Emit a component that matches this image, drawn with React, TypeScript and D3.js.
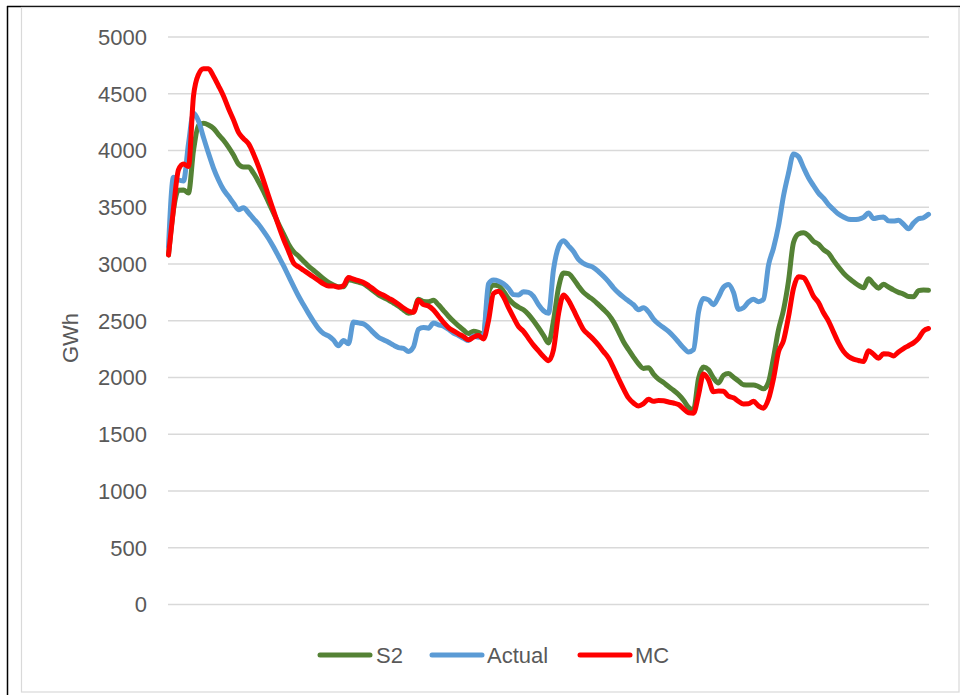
import React from "react";
import * as d3 from "d3";

// Weekly energy series (GWh), one value per period
const S2: number[] = [
  3080, 3480, 3650, 3652, 3625, 4000, 4220, 4240, 4225, 4195,
  4140, 4090, 4030, 3960, 3880, 3855, 3855, 3800, 3725, 3640,
  3545, 3450, 3355, 3265, 3175, 3110, 3070, 3025, 2982, 2945,
  2908, 2870, 2838, 2815, 2800, 2800, 2862, 2852, 2840, 2825,
  2796, 2762, 2728, 2705, 2683, 2656, 2628, 2596, 2565, 2580,
  2690, 2670, 2668, 2680, 2640, 2590, 2540, 2495, 2455, 2418,
  2388, 2408, 2398, 2378, 2750, 2815, 2808, 2760, 2695, 2650,
  2620, 2597, 2555, 2500, 2438, 2372, 2305, 2500, 2790, 2920,
  2915, 2868, 2805, 2750, 2714, 2682, 2642, 2600, 2555, 2490,
  2405, 2315, 2246, 2180, 2120, 2080, 2087, 2030, 1985, 1955,
  1920, 1888, 1850, 1800, 1738, 1715, 1990, 2092, 2068, 1996,
  1952, 2020, 2035, 2002, 1970, 1936, 1934, 1934, 1920, 1900,
  1960, 2175, 2420, 2595, 2850, 3190, 3265, 3275, 3250, 3200,
  3175, 3126, 3096, 3032, 2973, 2920, 2877, 2843, 2812, 2790,
  2870, 2825, 2787, 2822, 2797, 2772, 2750, 2735, 2713, 2712,
  2765, 2771, 2768,
];

const ACTUAL: number[] = [
  3150, 3765, 3740, 3732, 4060, 4328, 4260, 4115, 3975, 3845,
  3740, 3655, 3596, 3535, 3478, 3495, 3452, 3400, 3350, 3290,
  3225, 3150, 3068, 2985, 2895, 2805, 2718, 2640, 2565, 2495,
  2430, 2387, 2366, 2330, 2280, 2325, 2298, 2490, 2481, 2473,
  2440, 2395, 2355, 2332, 2310, 2285, 2264, 2257, 2230, 2270,
  2425, 2441, 2435, 2480, 2464, 2452, 2425, 2392, 2370, 2346,
  2325, 2365, 2355, 2380, 2825, 2858, 2850, 2825, 2785, 2730,
  2727, 2755, 2750, 2715, 2642, 2588, 2566, 2950, 3150, 3205,
  3160, 3110, 3040, 3005, 2986, 2969, 2933, 2892, 2845, 2790,
  2745, 2708, 2675, 2641, 2598, 2614, 2578, 2515, 2472, 2440,
  2406, 2362, 2312, 2262, 2225, 2245, 2575, 2695, 2684, 2641,
  2710, 2795, 2820, 2750, 2600, 2615, 2665, 2690, 2668, 2690,
  2990, 3140, 3336, 3600, 3800, 3970, 3945, 3850, 3760, 3690,
  3625, 3580, 3523, 3480, 3440, 3414, 3395, 3392, 3395, 3410,
  3450, 3400, 3410, 3415, 3380, 3378, 3385, 3350, 3310, 3360,
  3398, 3408, 3438,
];

const MC: number[] = [
  3080, 3490, 3830, 3880, 3860, 4480, 4670, 4720, 4720, 4655,
  4570, 4480, 4370, 4270, 4160, 4105, 4060, 3970, 3860, 3735,
  3600, 3470, 3340, 3220, 3115, 3010, 2975, 2945, 2915, 2885,
  2855, 2825, 2806, 2806, 2795, 2810, 2880, 2866, 2853, 2838,
  2810, 2778, 2745, 2725, 2700, 2675, 2645, 2612, 2585, 2575,
  2680, 2642, 2630, 2595, 2540, 2485, 2440, 2410, 2385, 2360,
  2332, 2355, 2370, 2340, 2500, 2740, 2760, 2710, 2615, 2530,
  2450, 2407, 2345, 2285, 2235, 2185, 2148, 2245, 2560, 2727,
  2680, 2595, 2505, 2422, 2378, 2335, 2285, 2228, 2172, 2085,
  1990, 1900, 1820, 1775, 1750, 1770, 1808, 1790, 1798, 1795,
  1784, 1775, 1762, 1725, 1690, 1686, 1845, 2030, 1980, 1875,
  1880, 1878, 1835, 1821, 1790, 1767, 1768, 1790, 1750, 1730,
  1810, 1990, 2225, 2325, 2535, 2785, 2888, 2880, 2810, 2715,
  2660, 2570, 2497, 2400, 2305, 2230, 2185, 2162, 2150, 2140,
  2235, 2205, 2170, 2210, 2208, 2190, 2225, 2255, 2280, 2305,
  2345, 2410, 2432,
];

const Y_TICKS: number[] = [0, 500, 1000, 1500, 2000, 2500, 3000, 3500, 4000, 4500, 5000];

const SERIES_NAMES: string[] = ["S2", "Actual", "MC"];
const SERIES_COLORS: string[] = ["#548235", "#5B9BD5", "#FF0000"];
const SERIES_DATA: number[][] = [S2, ACTUAL, MC];

const WIDTH = 968;
const HEIGHT = 695;
const FONT = "'Liberation Sans', Arial, sans-serif";
const TEXT_COLOR = "#595959";

export default function App() {
  const plotLeft = 168;
  const plotRight = 929;
  const plotTop = 37;
  const plotBottom = 604.5;

  const x = d3
    .scaleLinear()
    .domain([0, S2.length - 1])
    .range([plotLeft + 0.5, plotRight - 0.5]);
  const y = d3.scaleLinear().domain([0, 5000]).range([plotBottom, plotTop]);

  const line = d3
    .line<number>()
    .x((_, i) => x(i))
    .y((d) => y(d))
    .curve(d3.curveMonotoneX);

  // legend entries: line swatch followed by label
  const legendY = 655;
  const legendItems = [
    { swatch: 318, label: 376 },
    { swatch: 430, label: 487 },
    { swatch: 578, label: 635 },
  ];

  return (
    <svg
      width={WIDTH}
      height={HEIGHT}
      viewBox={`0 0 ${WIDTH} ${HEIGHT}`}
      style={{ position: "absolute", left: 0, top: 0, display: "block", background: "#fff" }}
    >
      <rect x={0} y={0} width={WIDTH} height={HEIGHT} fill="#fff" />
      {/* frame */}
      <line x1={7} y1={6.5} x2={960} y2={6.5} stroke="#000" strokeWidth={1.5} />
      <line x1={7.5} y1={6} x2={7.5} y2={HEIGHT} stroke="#000" strokeWidth={1.5} />
      <rect x={21.5} y={7.5} width={937.5} height={684.5} fill="none" stroke="#d9d9d9" strokeWidth={1.2} />

      {/* gridlines and y tick labels */}
      {Y_TICKS.map((t) => (
        <g key={t}>
          <line x1={plotLeft} x2={plotRight} y1={y(t)} y2={y(t)} stroke="#d9d9d9" strokeWidth={1.5} />
          <text
            x={147}
            y={y(t)}
            dy="0.36em"
            textAnchor="end"
            fontFamily={FONT}
            fontSize={22}
            fill={TEXT_COLOR}
          >
            {t}
          </text>
        </g>
      ))}

      <text
        transform={`translate(78, 338) rotate(-90)`}
        textAnchor="middle"
        fontFamily={FONT}
        fontSize={22}
        fill={TEXT_COLOR}
      >
        GWh
      </text>

      {/* series */}
      {SERIES_DATA.map((data, k) => (
        <path
          key={SERIES_NAMES[k]}
          d={line(data) ?? ""}
          fill="none"
          stroke={SERIES_COLORS[k]}
          strokeWidth={5}
          strokeLinejoin="round"
          strokeLinecap="round"
        />
      ))}

      {/* legend */}
      {legendItems.map((item, k) => (
        <g key={SERIES_NAMES[k]}>
          <line
            x1={item.swatch + 2}
            x2={item.swatch + 52}
            y1={legendY}
            y2={legendY}
            stroke={SERIES_COLORS[k]}
            strokeWidth={5}
            strokeLinecap="round"
          />
          <text
            x={item.label}
            y={legendY}
            dy="0.36em"
            fontFamily={FONT}
            fontSize={22}
            fill={TEXT_COLOR}
          >
            {SERIES_NAMES[k]}
          </text>
        </g>
      ))}
    </svg>
  );
}
